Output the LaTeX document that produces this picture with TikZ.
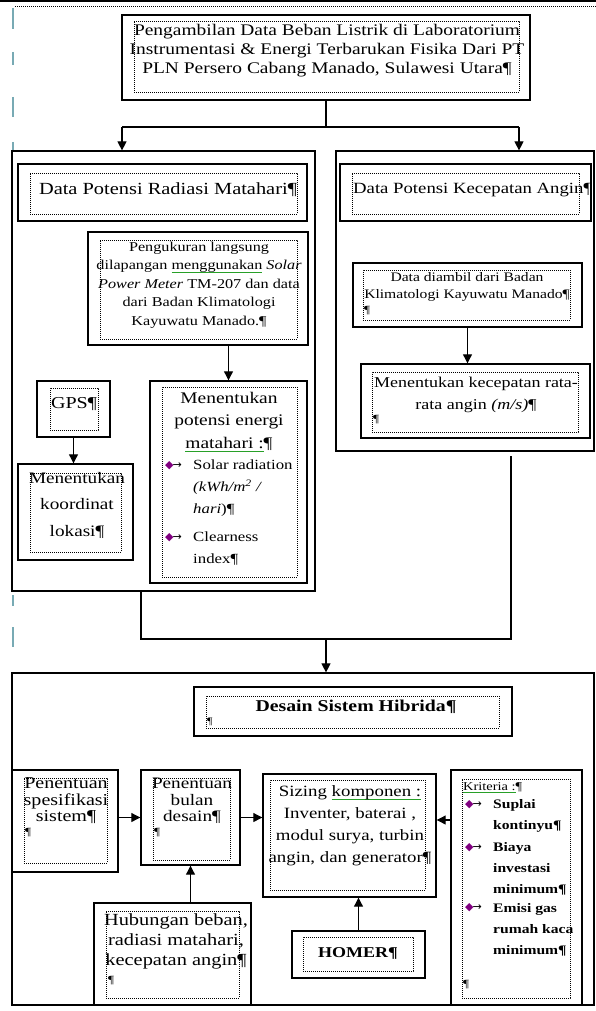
\documentclass[tikz,border=0pt]{standalone}
\usepackage{fontspec}
\setmainfont{Liberation Serif}[FakeStretch=1.2]
\newfontfamily\dejavu{DejaVu Sans}
\usetikzlibrary{fit,arrows.meta}
\definecolor{gw}{RGB}{40,160,40}
\definecolor{mk}{RGB}{120,170,180}
\newsavebox\gwbox
\newcommand\gw[1]{\sbox\gwbox{#1}\rlap{\textcolor{gw}{\rule[-0.45ex]{\wd\gwbox}{0.8pt}}}\usebox\gwbox}
\newcommand\bul{{\dejavu\fontsize{11}{11}\selectfont\textcolor{violet}{◆}\kern-1pt\textcolor{black}{→}}}
\newcommand\fs[2]{\fontsize{#1}{#2}\selectfont}
\begin{document}
\begin{tikzpicture}[x=1pt,y=-1pt,
 panel/.style={draw, line width=1.2pt, inner sep=0pt},
 obox/.style={draw, line width=1.4pt, inner sep=0pt},
 ibox/.style={draw, dash pattern=on 0.8pt off 1.2pt, line width=0.7pt, inner sep=0pt},
 txt/.style={inner sep=0pt, align=center},
 arr/.style={line width=1.1pt, -{Triangle[length=9pt,width=9pt]}},
 ln/.style={line width=1.1pt}]
\useasboundingbox (0,0) rectangle (596,1011);
% page decorations
\fill (0,0) rectangle (596,2.5);
\draw[dash pattern=on 0.8pt off 1.2pt, line width=0.6pt] (15,6) -- (596,6);
\foreach \a/\b in {8/29, 52/65, 97/117, 142/150, 595/606, 627/647} \draw[mk, line width=1.6pt] (13,\a) -- (13,\b);
% top box
\node[obox, fit={(122,15) (530,100)}] (top) {};
\node[ibox, fit={(134,21) (519,92)}] (topI) {};
\node[txt, font=\fs{16.2}{19}] (topT) at (327,51) {Pengambilan Data Beban Listrik di Laboratorium\\ Instrumentasi \& Energi Terbarukan Fisika Dari PT\\ PLN Persero Cabang Manado, Sulawesi Utara¶};
% panels
\node[panel, fit={(12,151) (315,591)}] (lp) {};
\node[panel, fit={(336,151) (594,451)}] (rp) {};
\node[panel, fit={(12,673) (594,1005)}] (bp) {};
\coordinate (jL) at (122,127); \coordinate (jR) at (519,127);
\draw[ln] (top.south) -- (top.south |- jL);
\draw[ln] (jL) -- (jR);
\draw[arr] (jL) -- (jL |- lp.north);
\draw[arr] (jR) -- (jR |- rp.north);
% left panel
\node[obox, fit={(18,164) (307,221)}] (rad) {};
\node[ibox, fit={(30,173) (297,214)}] (radI) {};
\node[txt, font=\fs{17}{20}] (radT) at (168,190) {Data Potensi Radiasi Matahari¶};
\node[obox, fit={(88,232) (308,345)}] (peng) {};
\node[ibox, fit={(100,240) (297,339)}] (pengI) {};
\node[txt, font=\fs{13.5}{18.5}] (pengT) at (199,285) {Pengukuran langsung\\ dilapangan \gw{menggunakan} \textit{Solar}\\ \textit{Power Meter} TM-207 dan data\\ dari Badan Klimatologi\\ Kayuwatu Manado.¶};
\node[obox, fit={(37,381) (110,437)}] (gps) {};
\node[ibox, fit={(50,388) (98,430)}] (gpsI) {};
\node[txt, font=\fs{16.7}{20}] (gpsT) at (74,404) {GPS¶};
\node[obox, fit={(18,464) (133,560)}] (koor) {};
\node[ibox, fit={(30,473) (121,552)}] (koorI) {};
\node[txt, font=\fs{16}{26.5}] (koorT) at (77,505) {Menentukan\\ koordinat\\ lokasi¶};
\node[obox, fit={(150,381) (307,583)}] (pot) {};
\node[ibox, fit={(162,387) (297,577)}] (potI) {};
\node[txt, font=\fs{16.2}{22.5}] (potT) at (229,422) {Menentukan\\ potensi energi\\ \gw{matahari :}¶};
\node[txt, align=left, anchor=west, font=\fs{14}{22}] (potA) at (193,488) {Solar radiation\\ \textit{(kWh/m\textsuperscript{2} /}\\ \textit{hari})¶};
\node[txt, align=left, anchor=west, font=\fs{14}{22}] (potB) at (193,549) {Clearness\\ index¶};
\node[txt, anchor=west] (potAm) at (165,466) {\bul};
\node[txt, anchor=west] (potBm) at (165,538) {\bul};
\draw[arr] (pot.north |- peng.south) -- (pot.north);
\draw[arr] (gps.south) -- (gps.south |- koor.north);
% right panel
\node[obox, fit={(340,164) (591,221)}] (ang) {};
\node[ibox, fit={(352,173) (579,214)}] (angI) {};
\node[txt, anchor=west, font=\fs{15.6}{20}] (angT) at (353,190) {Data Potensi Kecepatan Angin¶};
\node[obox, fit={(353,263) (582,327)}] (dia) {};
\node[ibox, fit={(363,270) (570,320)}] (diaI) {};
\node[txt, font=\fs{13}{17}] (diaT) at (467,287) {Data diambil dari Badan\\ Klimatologi Kayuwatu Manado¶};
\node[txt, anchor=west, font=\fs{11}{12}] (diaP) at (364,311) {¶};
\node[obox, fit={(361,364) (590,438)}] (kec) {};
\node[ibox, fit={(372,372) (578,432)}] (kecI) {};
\node[txt, font=\fs{15}{22}] (kecT) at (476,395) {Menentukan kecepatan rata-\\ rata angin \textit{(m/s)}¶};
\node[txt, anchor=west, font=\fs{11}{12}] (kecP) at (373,420) {¶};
\draw[arr] (dia.south) -- (dia.south |- kec.north);
% middle connectors
\coordinate (m1) at (141,639); \coordinate (m2) at (511,639); \coordinate (m3) at (326,639);
\draw[ln] (m1 |- lp.south) -- (m1) -- (m2) -- ([yshift=-4pt]m2 |- rp.south);
\draw[arr] (m3) -- (m3 |- bp.north);
% bottom panel
\node[obox, fit={(194,687) (512,736)}] (des) {};
\node[ibox, fit={(206,696) (499,728)}] (desI) {};
\node[txt, font=\bfseries\fs{16.5}{20}] (desT) at (356,707) {Desain Sistem Hibrida¶};
\node[txt, anchor=west, font=\fs{10}{12}] (desP) at (207,722) {¶};
\node[obox, fit={(12,770) (118,872)}] (spe) {};
\node[ibox, fit={(24,778) (107,863)}] (speI) {};
\node[txt, font=\fs{16.7}{16.5}] (speT) at (66,801) {Penentuan\\ spesifikasi\\ sistem¶};
\node[txt, anchor=west, font=\fs{11}{12}] (speP) at (25,833) {¶};
\node[obox, fit={(141,770) (240,865)}] (bln) {};
\node[ibox, fit={(153,778) (230,860)}] (blnI) {};
\node[txt, font=\fs{16}{16.5}] (blnT) at (192,801) {Penentuan\\ bulan\\ desain¶};
\node[txt, anchor=west, font=\fs{11}{12}] (blnP) at (154,833) {¶};
\node[obox, fit={(263,774) (436,897)}] (siz) {};
\node[ibox, fit={(270,780) (425,890)}] (sizI) {};
\node[txt, font=\fs{15.7}{22}] (sizT) at (350,826) {Sizing \gw{komponen :}\\ Inventer, baterai ,\\ modul surya, turbin\\ angin, dan generator¶};
\node[obox, fit={(292,931) (425,978)}] (hom) {};
\node[ibox, fit={(303,937) (413,971)}] (homI) {};
\node[txt, font=\bfseries\fs{15}{18}] (homT) at (358,953) {HOMER¶};
\node[obox, fit={(451,770) (582,1005)}] (kri) {};
\node[ibox, fit={(462,779) (570,998)}] (kriI) {};
\node[txt, anchor=west, font=\fs{12}{14}] (kriT) at (463,788) {\gw{Kriteria :}¶};
\node[txt, align=left, anchor=west, font=\bfseries\fs{13}{21}] (kriA) at (493,816) {Suplai\\ kontinyu¶};
\node[txt, align=left, anchor=west, font=\bfseries\fs{13}{21}] (kriB) at (493,869) {Biaya\\ investasi\\ minimum¶};
\node[txt, align=left, anchor=west, font=\bfseries\fs{13}{21}] (kriC) at (493,930) {Emisi gas\\ rumah kaca\\ minimum¶};
\node[txt, anchor=west] (kriAm) at (465,805) {\bul};
\node[txt, anchor=west] (kriBm) at (465,848) {\bul};
\node[txt, anchor=west] (kriCm) at (465,908) {\bul};
\node[txt, anchor=west, font=\fs{11}{12}] (kriP) at (463,985) {¶};
\node[obox, fit={(94,903) (251,1005)}] (hub) {};
\node[ibox, fit={(106,911) (239,998)}] (hubI) {};
\node[txt, font=\fs{17}{20}] (hubT) at (176,941) {Hubungan beban,\\ radiasi matahari,\\ kecepatan angin¶};
\node[txt, anchor=west, font=\fs{11}{12}] (hubP) at (108,981) {¶};
\draw[arr] (spe.east |- bln.west) -- (bln.west);
\draw[arr] (bln.east) -- (bln.east -| siz.west);
\draw[arr] (bln.south |- hub.north) -- (bln.south);
\draw[arr] (hom.north) -- (hom.north |- siz.south);
\coordinate (a2) at (0,820);
\draw[arr] (kri.west |- a2) -- (siz.east |- a2);
\end{tikzpicture}
\end{document}
